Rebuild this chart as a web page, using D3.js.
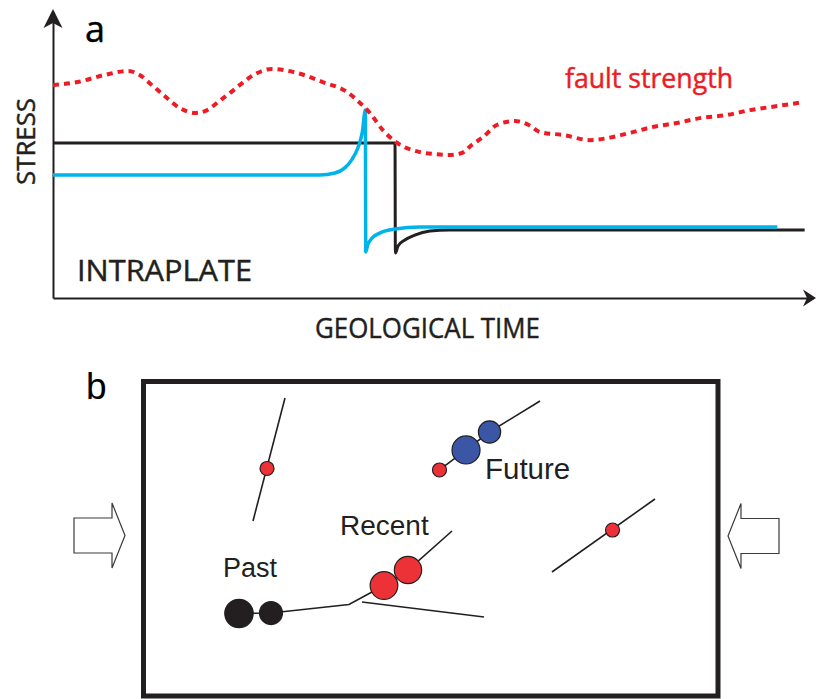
<!DOCTYPE html>
<html><head><meta charset="utf-8">
<script src="https://cdn.jsdelivr.net/npm/d3@7"></script>
<style>html,body{margin:0;padding:0;background:#fff;} svg{display:block;}</style>
</head><body>
<svg id="chart" width="816" height="699"></svg>
<script>
// ---------- Panel a : stress vs geological time (arbitrary units 0-100) ----------
const faultStrength = [[0,74.5],[3.2,75.5],[6.8,78],[9.9,79.4],[11.4,78],[13,74.5],[14.7,70.6],[16.7,66.4],[18.7,64.7],[20.3,65.7],[21.7,68.5],[23.3,71.7],[24.6,74.5],[26.6,78.3],[28.8,80.1],[32.1,78.7],[35.5,75.5],[38.7,72],[40.4,68.2],[41.7,64.7],[43.4,58.7],[45.3,54.2],[48.3,51],[50.3,50.3],[52,50],[53.8,50.7],[55.1,53.5],[56.6,56.3],[58.4,60.5],[60.8,61.9],[62.6,60.5],[64.1,58],[67.1,57],[70.7,55.2],[73.7,56.3],[76.3,58],[78.9,59.8],[82.1,61.2],[85.1,62.9],[88.7,64],[91.7,65.7],[95.3,67.1],[98.7,68.5]];
const intraplateStress = [[0,43],[35.1,43],[37.1,43.7],[38.4,45.5],[39.3,48.3],[40.1,52.4],[40.7,58],[41.1,65.7],[41.15,16.1],[41.4,18.5],[42,21],[43,22.7],[45,24.1],[48.3,24.8],[95.3,24.8]];
const plateBoundaryStress = [[0,54.2],[45,54.2],[45.05,15.7],[45.4,18.2],[46.3,20.3],[47.6,22],[49.6,23.4],[52.2,23.8],[98.9,23.8]];
const panelALabels = {panel:"a", yAxis:"STRESS", xAxis:"GEOLOGICAL TIME", regime:"INTRAPLATE", strength:"fault strength"};

// ---------- Panel b : map of faults (km) ----------
const faultTraces = [
  [[24.63,2.87],[19.06,24.28]],
  [[16.62,40.38],[22.19,40.3],[35.77,38.82],[41.86,35.51],[46.04,32.81],[53.7,26.02]],
  [[38.03,38.38],[59.27,40.99]],
  [[51.52,15.4],[56.14,11.92],[60.23,8.79],[69.02,3.39]],
  [[71.1,33.16],[89.03,20.45]]
];
const quakeX   = [16.62, 22.19, 41.86, 46.04, 56.14, 60.23, 51.52, 21.5, 81.64];
const quakeY   = [40.38, 40.3, 35.51, 32.81, 11.92, 8.79, 15.4, 15.14, 25.85];
const quakeMag = [7.0, 6.25, 6.9, 6.85, 6.95, 6.15, 5.0, 5.0, 5.0];
const quakeEra = ["past","past","recent","recent","future","future","background","background","background"];
const eraLabels = [{text:"Past", x:13.84, y:34.03, size:27},{text:"Recent", x:34.2, y:26.72, size:28},{text:"Future", x:59.44, y:16.97, size:29.5}];

const svg = d3.select("#chart");
const ink = "#231f20";

// ----- Panel a -----
const x = d3.scaleLinear().domain([0,100]).range([53,813]);
const y = d3.scaleLinear().domain([0,100]).range([298,12]);
const line = d3.line().x(d=>x(d[0])).y(d=>y(d[1])).curve(d3.curveMonotoneX);

const ga = svg.append("g");
const xAxis = ga.append("g").attr("transform",`translate(0,${y(0)})`)
  .call(d3.axisBottom(x).ticks(0).tickSize(0).tickSizeOuter(0));
const yAxis = ga.append("g").attr("transform",`translate(${x(0)},0)`)
  .call(d3.axisLeft(y).ticks(0).tickSize(0).tickSizeOuter(0));
[xAxis,yAxis].forEach(a=>a.select(".domain").attr("stroke",ink).attr("stroke-width",2));

// arrowheads
const ax = x(0), ay = y(100);
ga.append("path").attr("fill",ink)
  .attr("d",`M${ax},${ay-3} L${ax+9.5},${ay+16} L${ax},${ay+11} L${ax-9.5},${ay+16} Z`);
const bx = x(100), by = y(0);
ga.append("path").attr("fill",ink)
  .attr("d",`M${bx+3},${by} L${bx-10},${by-8.5} L${bx-6},${by} L${bx-10},${by+8.5} Z`);

ga.append("path").datum(plateBoundaryStress).attr("d",line)
  .attr("fill","none").attr("stroke",ink).attr("stroke-width",3);
ga.append("path").datum(intraplateStress).attr("d",line)
  .attr("fill","none").attr("stroke","#00b4ea").attr("stroke-width",3.5);
ga.append("path").datum(faultStrength).attr("d",line)
  .attr("fill","none").attr("stroke","#ed1c24").attr("stroke-width",4)
  .attr("stroke-dasharray","6,5");

const sans = "'Open Sans', 'Noto Sans', sans-serif";
function heavy(sel, col){ return sel.attr("fill",col).attr("stroke",col).attr("stroke-width",0.45); }
heavy(ga.append("text").text(panelALabels.panel).attr("x",85).attr("y",42)
  .attr("font-family",sans).attr("font-size",36), "#000");
heavy(ga.append("text").text(panelALabels.yAxis)
  .attr("transform","translate(35,141.5) rotate(-90)").attr("text-anchor","middle")
  .attr("font-family",sans).attr("font-size",26)
  .attr("textLength",87).attr("lengthAdjust","spacingAndGlyphs"), ink);
heavy(ga.append("text").text(panelALabels.regime).attr("x",77).attr("y",281)
  .attr("font-family",sans).attr("font-size",29)
  .attr("textLength",175).attr("lengthAdjust","spacingAndGlyphs"), ink);
heavy(ga.append("text").text(panelALabels.xAxis).attr("x",315).attr("y",338)
  .attr("font-family",sans).attr("font-size",27.5)
  .attr("textLength",225).attr("lengthAdjust","spacingAndGlyphs"), ink);
heavy(ga.append("text").text(panelALabels.strength).attr("x",565).attr("y",88)
  .attr("font-family",sans).attr("font-size",26.5)
  .attr("textLength",168).attr("lengthAdjust","spacingAndGlyphs"), "#ed1c24");

// ----- Panel b -----
const mapX = d3.scaleLinear().domain([0,100]).range([143.5,718]);
const mapY = d3.scaleLinear().domain([0,54.74]).range([381.5,696]);
const rScale = d3.scaleLinear().domain([5,7]).range([7,14.2]);
const eraColor = d3.scaleOrdinal().domain(["past","recent","future","background"])
  .range([ink,"#ed3237","#3b56a5","#ed3237"]);
const mapLine = d3.line().x(d=>mapX(d[0])).y(d=>mapY(d[1]));

const gb = svg.append("g");
const helv = "'Liberation Sans', Arial, Helvetica, sans-serif";
gb.append("text").text("b").attr("x",86).attr("y",399)
  .attr("font-family",helv).attr("font-size",37).attr("fill","#000");

gb.append("rect").attr("x",mapX(0)).attr("y",mapY(0))
  .attr("width",mapX(100)-mapX(0)).attr("height",mapY(54.74)-mapY(0))
  .attr("fill","none").attr("stroke",ink).attr("stroke-width",5);

// compression arrows (hollow)
function hollowArrow(tipX, tipY, dir){
  const L=51, H=13, hh=32.5, sh=17.5;
  const b = tipX - dir*H, e = tipX - dir*L;
  return `M${e},${tipY-sh} L${b},${tipY-sh} L${b},${tipY-hh} L${tipX},${tipY} L${b},${tipY+hh} L${b},${tipY+sh} L${e},${tipY+sh} Z`;
}
gb.append("path").attr("d",hollowArrow(mapX(0)-18.5,535.5,1))
  .attr("fill","#fff").attr("stroke","#3a3a3a").attr("stroke-width",1.2);
gb.append("path").attr("d",hollowArrow(mapX(100)+10,536,-1))
  .attr("fill","#fff").attr("stroke","#3a3a3a").attr("stroke-width",1.2);

gb.selectAll("path.fault").data(faultTraces).join("path").attr("class","fault")
  .attr("d",mapLine).attr("fill","none").attr("stroke",ink).attr("stroke-width",1.6);

const quakes = quakeX.map((v,i)=>({x:v,y:quakeY[i],mag:quakeMag[i],era:quakeEra[i]}));
gb.selectAll("circle.eq").data(quakes).join("circle").attr("class","eq")
  .attr("cx",d=>mapX(d.x)).attr("cy",d=>mapY(d.y)).attr("r",d=>rScale(d.mag))
  .attr("fill",d=>eraColor(d.era)).attr("stroke",ink).attr("stroke-width",1.2);

gb.selectAll("text.era").data(eraLabels).join("text").attr("class","era")
  .attr("x",d=>mapX(d.x)).attr("y",d=>mapY(d.y)).text(d=>d.text)
  .attr("font-family",helv).attr("font-size",d=>d.size).attr("fill",ink);
</script>
</body></html>
